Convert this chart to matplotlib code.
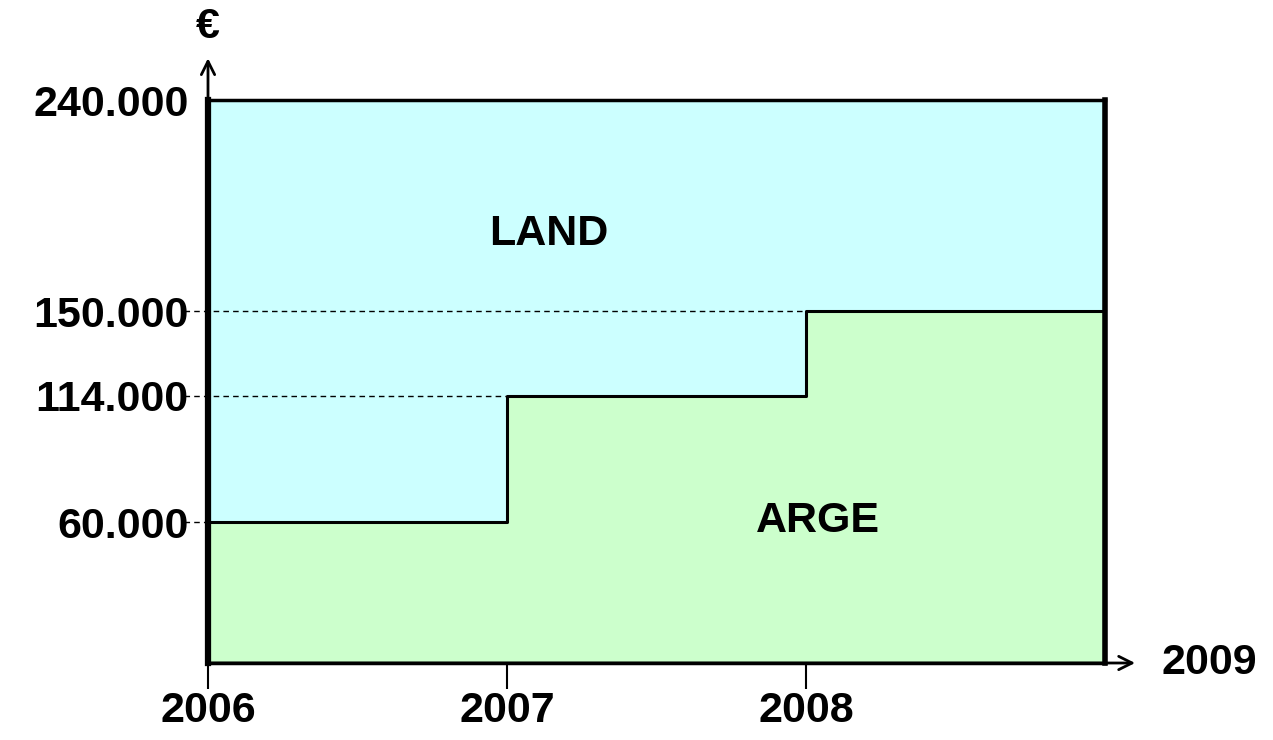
import matplotlib.pyplot as plt

plt.rcParams['font.family'] = ['Liberation Sans', 'DejaVu Sans']

# data
years = [2006, 2007, 2008, 2009]
arge = [60000, 114000, 150000]
total = 240000
y_levels = [60000, 114000, 150000, 240000]
y_labels = ['60.000', '114.000', '150.000', '240.000']
x_labels = ['2006', '2007', '2008']

land_color = '#ccffff'
arge_color = '#ccffcc'
fs = 31

fig = plt.figure(figsize=(12.73, 7.40), dpi=100)
ax = fig.add_axes([208 / 1273, 77 / 740, 897 / 1273, 563 / 740])
ax.set_xlim(years[0], years[-1])
ax.set_ylim(0, total)

steps = arge + [arge[-1]]
ax.fill_between(years, 0, total, color=land_color, zorder=1)
ax.fill_between(years, 0, steps, step='post', color=arge_color, zorder=2)
ax.step(years, steps, where='post', color='black', lw=2.2, zorder=3)

# dashed guide lines from the labels to the steps
for i, lev in enumerate(arge):
    ax.plot([years[0] - 0.08, years[i]], [lev, lev], ls=(0, (4, 3)),
            color='black', lw=1, clip_on=False, zorder=3)

ax.set_xticks(years[:3])
ax.set_xticklabels(x_labels, fontsize=fs, fontweight='bold')
ax.tick_params(axis='x', direction='inout', length=38, width=1.5, pad=1)
ax.set_yticks(y_levels)
ax.set_yticklabels(y_labels, fontsize=fs, fontweight='bold')
ax.tick_params(axis='y', length=0, pad=14)

ax.spines['left'].set_linewidth(4.5)
ax.spines['bottom'].set_linewidth(2.5)
ax.spines['top'].set_linewidth(2.5)
ax.spines['right'].set_linewidth(4)
for s in ax.spines.values():
    s.set_zorder(4)

# axis arrows
ax.annotate('', xy=(years[0], 259000), xytext=(years[0], 0),
            arrowprops=dict(arrowstyle='->', lw=2, mutation_scale=24),
            annotation_clip=False, zorder=5)
ax.annotate('', xy=(2009.11, 0), xytext=(years[0], 0),
            arrowprops=dict(arrowstyle='->', lw=2, mutation_scale=24),
            annotation_clip=False, zorder=5)
ax.text(years[0], 271000, '€', ha='center', va='center',
        fontsize=fs, fontweight='bold')
ax.text(2009.19, 0, '2009', ha='left', va='center',
        fontsize=fs, fontweight='bold')

ax.text(2007.14, 183000, 'LAND', ha='center', va='center',
        fontsize=fs, fontweight='bold', zorder=5)
ax.text(2008.04, 60500, 'ARGE', ha='center', va='center',
        fontsize=fs, fontweight='bold', zorder=5)

fig.savefig('out.png', dpi=100)
